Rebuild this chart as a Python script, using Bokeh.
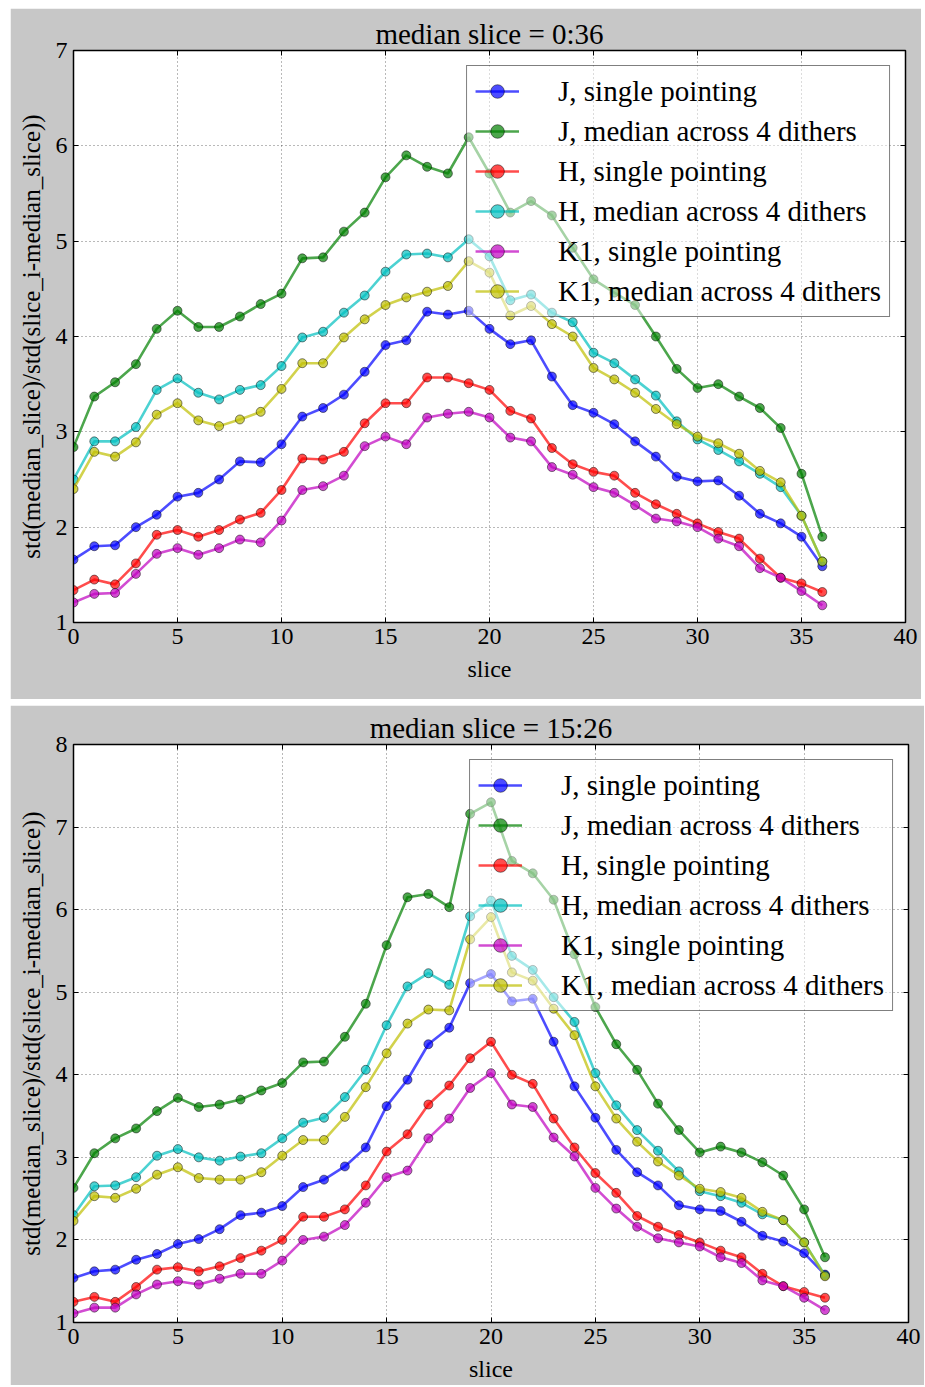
from bokeh.plotting import figure
from bokeh.models import Range1d, LinearAxis, FixedTicker, Legend, LegendItem
from bokeh.layouts import column
from bokeh.embed import file_html
from bokeh.resources import INLINE

slices = list(range(37))
series_labels = ["J, single pointing", "J, median across 4 dithers",
                 "H, single pointing", "H, median across 4 dithers",
                 "K1, single pointing", "K1, median across 4 dithers"]
series_colors = ["#0000ff", "#008000", "#ff0000", "#00bfbf", "#bf00bf", "#bfbf00"]
x_ticks = [0, 5, 10, 15, 20, 25, 30, 35, 40]

# ---- panel 1: median slice = 0:36
J_single_1 = [1.66, 1.80, 1.81, 2.00, 2.13, 2.32, 2.36, 2.50, 2.69, 2.68, 2.87, 3.16, 3.25, 3.39, 3.63, 3.91, 3.96, 4.26, 4.23, 4.27,
              4.08, 3.92, 3.96, 3.58, 3.28, 3.20, 3.08, 2.90, 2.74, 2.53, 2.48, 2.49, 2.33, 2.14, 2.04, 1.90, 1.59]
J_median_1 = [2.84, 3.37, 3.52, 3.71, 4.08, 4.27, 4.10, 4.10, 4.21, 4.34, 4.45, 4.82, 4.83, 5.10, 5.30, 5.67, 5.90, 5.78, 5.71, 6.09,
              5.71, 5.30, 5.42, 5.27, 4.93, 4.60, 4.46, 4.33, 4.00, 3.66, 3.46, 3.50, 3.37, 3.25, 3.04, 2.56, 1.90]
H_single_1 = [1.34, 1.45, 1.40, 1.62, 1.92, 1.97, 1.90, 1.97, 2.08, 2.15, 2.39, 2.72, 2.71, 2.79, 3.09, 3.30, 3.30, 3.57, 3.57, 3.51,
              3.44, 3.22, 3.14, 2.83, 2.66, 2.58, 2.54, 2.36, 2.24, 2.14, 2.04, 1.95, 1.88, 1.67, 1.47, 1.41, 1.32]
H_median_1 = [2.50, 2.90, 2.90, 3.05, 3.44, 3.56, 3.41, 3.34, 3.44, 3.49, 3.69, 3.99, 4.05, 4.25, 4.43, 4.68, 4.86, 4.87, 4.83, 5.02,
              4.84, 4.38, 4.44, 4.25, 4.15, 3.83, 3.72, 3.55, 3.38, 3.11, 2.92, 2.81, 2.69, 2.56, 2.42, 2.12, 1.64]
K1_single_1 = [1.21, 1.30, 1.31, 1.51, 1.72, 1.78, 1.71, 1.78, 1.87, 1.84, 2.07, 2.39, 2.43, 2.54, 2.85, 2.95, 2.87, 3.15, 3.19, 3.21,
               3.15, 2.94, 2.90, 2.63, 2.55, 2.42, 2.36, 2.23, 2.09, 2.06, 2.00, 1.88, 1.80, 1.57, 1.47, 1.33, 1.18]
K1_median_1 = [2.40, 2.79, 2.74, 2.89, 3.18, 3.30, 3.12, 3.06, 3.13, 3.21, 3.45, 3.72, 3.72, 3.99, 4.18, 4.33, 4.41, 4.47, 4.53, 4.79,
               4.67, 4.22, 4.32, 4.13, 4.00, 3.67, 3.55, 3.41, 3.24, 3.08, 2.95, 2.88, 2.77, 2.59, 2.47, 2.12, 1.64]

# ---- panel 2: median slice = 15:26
J_single_2 = [1.54, 1.62, 1.64, 1.76, 1.83, 1.95, 2.01, 2.13, 2.30, 2.33, 2.41, 2.64, 2.73, 2.89, 3.12, 3.62, 3.94, 4.37, 4.57, 5.11,
              5.22, 4.89, 4.92, 4.40, 3.86, 3.48, 3.09, 2.82, 2.66, 2.42, 2.37, 2.35, 2.22, 2.05, 1.98, 1.84, 1.58]
J_median_2 = [2.63, 3.05, 3.23, 3.35, 3.56, 3.72, 3.61, 3.64, 3.70, 3.81, 3.90, 4.15, 4.16, 4.46, 4.86, 5.57, 6.15, 6.19, 6.03, 7.16,
              7.30, 6.59, 6.44, 6.12, 5.46, 4.82, 4.37, 4.06, 3.65, 3.33, 3.06, 3.13, 3.06, 2.94, 2.78, 2.37, 1.79]
H_single_2 = [1.25, 1.31, 1.25, 1.43, 1.64, 1.67, 1.62, 1.68, 1.78, 1.87, 2.00, 2.28, 2.28, 2.37, 2.66, 3.07, 3.28, 3.64, 3.87, 4.20,
              4.40, 4.00, 3.89, 3.47, 3.12, 2.81, 2.57, 2.29, 2.16, 2.06, 1.97, 1.87, 1.79, 1.59, 1.44, 1.37, 1.30]
H_median_2 = [2.30, 2.65, 2.66, 2.76, 3.02, 3.10, 3.00, 2.96, 3.01, 3.05, 3.23, 3.42, 3.48, 3.73, 4.06, 4.60, 5.07, 5.23, 5.09, 5.92,
              6.11, 5.44, 5.27, 4.94, 4.64, 4.02, 3.63, 3.33, 3.08, 2.83, 2.59, 2.53, 2.45, 2.31, 2.24, 1.97, 1.57]
K1_single_2 = [1.11, 1.18, 1.18, 1.34, 1.46, 1.50, 1.46, 1.53, 1.59, 1.59, 1.75, 2.00, 2.04, 2.18, 2.45, 2.76, 2.84, 3.23, 3.47, 3.84,
               4.02, 3.64, 3.61, 3.24, 3.01, 2.63, 2.38, 2.16, 2.02, 1.97, 1.92, 1.79, 1.72, 1.51, 1.44, 1.30, 1.15]
K1_median_2 = [2.23, 2.53, 2.51, 2.62, 2.79, 2.88, 2.75, 2.73, 2.73, 2.82, 3.02, 3.21, 3.21, 3.49, 3.85, 4.26, 4.62, 4.79, 4.78, 5.64,
               5.91, 5.24, 5.14, 4.80, 4.48, 3.86, 3.47, 3.19, 2.95, 2.78, 2.62, 2.58, 2.51, 2.34, 2.24, 1.97, 1.56]

BG = "#c7c7c7"
FONT = "Liberation Serif"


def make_panel(title, series, ymax, width, height, bl, br, bt, bb, legend_margin):
    y_ticks = list(range(1, ymax + 1))
    p = figure(width=width, height=height, output_backend="svg", toolbar_location=None,
               x_range=Range1d(0, 40), y_range=Range1d(1, ymax),
               min_border_left=bl, min_border_right=br, min_border_top=bt, min_border_bottom=bb)
    p.border_fill_color = BG
    p.background_fill_color = "white"
    p.outline_line_color = "black"
    p.outline_line_width = 1.5

    p.title.text = title
    p.title.text_font = FONT
    p.title.text_font_size = "29px"
    p.title.text_font_style = "normal"
    p.title.text_color = "black"
    p.title.align = "center"
    p.title.standoff = 2

    for ax, ticks in ((p.xaxis[0], x_ticks), (p.yaxis[0], y_ticks)):
        ax.ticker = FixedTicker(ticks=ticks)
        ax.major_tick_in = 5
        ax.major_tick_out = 0
        ax.minor_tick_in = 0
        ax.minor_tick_out = 0
        ax.axis_line_color = "black"
        ax.major_tick_line_color = "black"
        ax.major_label_text_font = FONT
        ax.major_label_text_font_size = "24px"
        ax.major_label_text_color = "black"
        ax.major_label_standoff = 6
        ax.axis_label_text_font = FONT
        ax.axis_label_text_font_style = "normal"
        ax.axis_label_text_color = "black"
    p.xaxis[0].axis_label = "slice"
    p.xaxis[0].axis_label_text_font_size = "24px"
    p.xaxis[0].axis_label_standoff = 9
    p.yaxis[0].axis_label = "std(median_slice)/std(slice_i-median_slice))"
    p.yaxis[0].axis_label_text_font_size = "25px"
    p.yaxis[0].axis_label_standoff = 8

    # inward ticks on the top and right spines (no labels)
    for loc, ticks in (("above", x_ticks), ("right", y_ticks)):
        ax = LinearAxis(ticker=FixedTicker(ticks=ticks))
        ax.major_label_overrides = {t: "" for t in ticks}
        ax.major_label_text_font_size = "6px"
        ax.major_label_standoff = 0
        ax.major_tick_in = 5
        ax.major_tick_out = 0
        ax.minor_tick_in = 0
        ax.minor_tick_out = 0
        ax.axis_line_color = "black"
        ax.major_tick_line_color = "black"
        p.add_layout(ax, loc)

    p.xgrid.ticker = FixedTicker(ticks=x_ticks)
    p.ygrid.ticker = FixedTicker(ticks=y_ticks)
    for g in (p.xgrid[0], p.ygrid[0]):
        g.grid_line_color = "black"
        g.grid_line_alpha = 0.55
        g.grid_line_width = 1
        g.grid_line_dash = "1 3"

    items = []
    for lab, col, ys in zip(series_labels, series_colors, series):
        lr = p.line(slices, ys, line_color=col, line_alpha=0.7, line_width=2.6)
        sr = p.scatter(slices, ys, size=9, fill_color=col, fill_alpha=0.7,
                       line_color="black", line_alpha=0.6, line_width=0.8)
        items.append(LegendItem(label=lab, renderers=[lr, sr]))

    leg = Legend(items=items, location="top_right", margin=legend_margin,
                 padding=8, spacing=6, glyph_width=44, glyph_height=34,
                 label_height=34, label_standoff=39,
                 label_text_font=FONT, label_text_font_size="29px", label_text_color="black",
                 border_line_color="black", border_line_alpha=0.5, border_line_width=1,
                 background_fill_color="white", background_fill_alpha=0.5)
    p.add_layout(leg)
    return p


p1 = make_panel("median slice = 0:36",
                [J_single_1, J_median_1, H_single_1, H_median_1, K1_single_1, K1_median_1],
                7, 911, 691, 62, 16, 42, 77, 15)
p2 = make_panel("median slice = 15:26",
                [J_single_2, J_median_2, H_single_2, H_median_2, K1_single_2, K1_median_2],
                8, 914, 680, 63, 4, 39, 63, 15)
p1.margin = (8, 0, 0, 10)
p2.margin = (6, 0, 0, 10)

layout = column(p1, p2)
open("out.html", "w").write(file_html(layout, INLINE))
